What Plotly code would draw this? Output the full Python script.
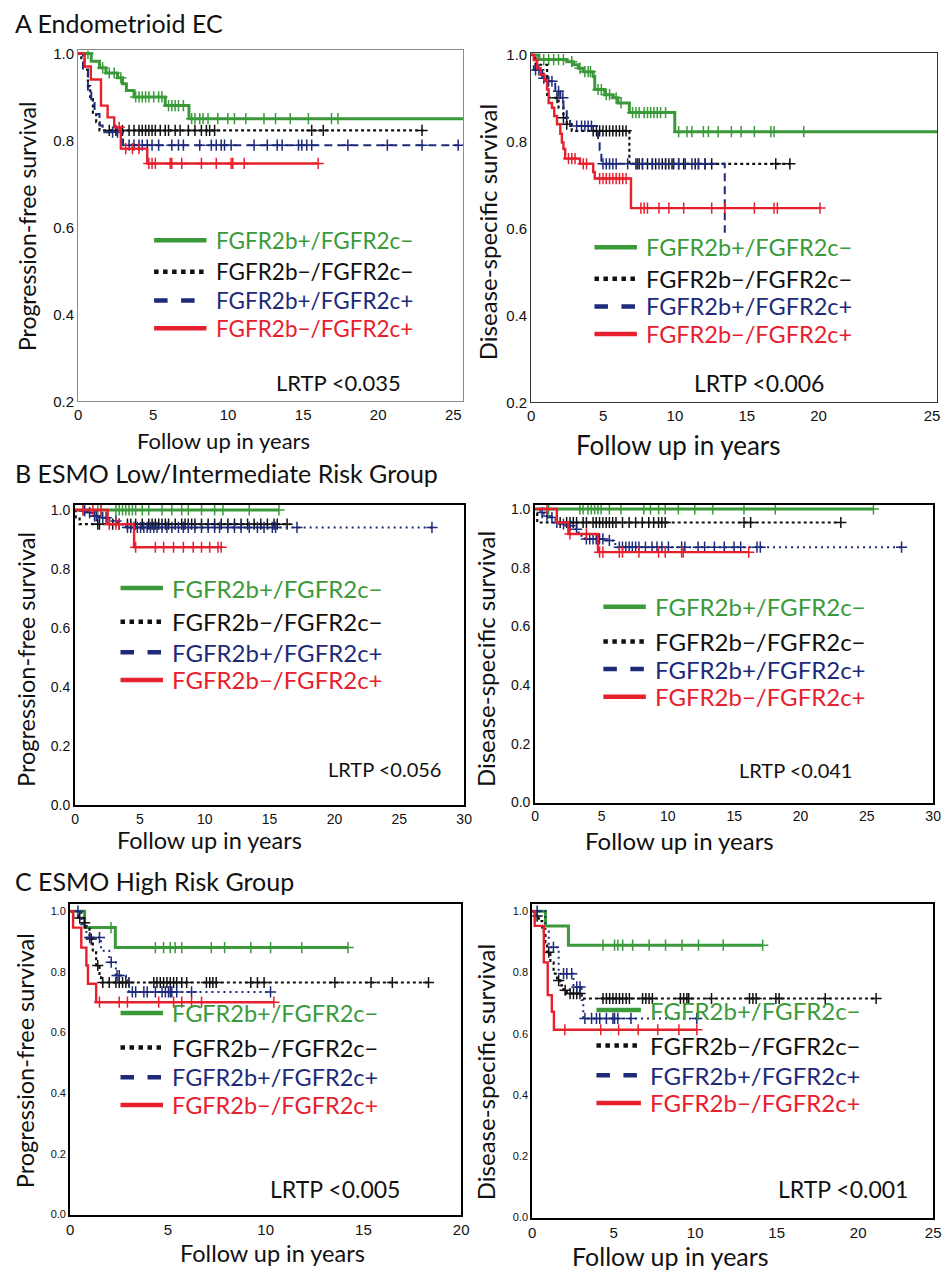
import plotly.graph_objects as go

W, H = 952, 1272
GREEN = "#3a9a3a"
BLACK = "#111111"
NAVY = "#1d2a7a"
RED = "#e8202e"

# ---------------- Panel A: Endometrioid EC, progression-free ----------------
apfs_g_t = [0.88, 1.43, 1.86, 2.63, 2.96, 3.22, 3.73, 5.81, 7.39]
apfs_g_s = [0.982, 0.967, 0.955, 0.944, 0.93, 0.915, 0.90, 0.88, 0.85]
apfs_g_end = 25.7
apfs_g_c = [0.66, 1.64, 2.08, 2.41, 2.85, 3.84, 4.06, 4.28, 4.50, 4.72, 5.04, 5.37, 5.59, 6.03, 6.25, 6.47,
            6.69, 7.02, 7.57, 7.79, 8.11, 8.33, 8.66, 9.31, 9.98, 10.42, 11.18, 12.39, 13.16, 14.14, 15.35,
            16.89, 17.32]
apfs_k_t = [0.22, 0.44, 0.66, 0.81, 0.99, 1.21, 1.43]
apfs_k_s = [0.986, 0.963, 0.925, 0.895, 0.864, 0.842, 0.823]
apfs_k_end = 23.0
apfs_k_c = [2.08, 2.52, 2.96, 3.40, 3.73, 4.06, 4.28, 4.50, 4.72, 4.93, 5.15, 5.48, 5.81, 6.03, 6.47, 6.80,
            7.35, 7.79, 8.22, 8.55, 8.77, 9.10, 15.57, 16.34, 22.92]
apfs_b_t = [0.33, 0.66, 0.88, 1.10, 1.43, 1.64, 3.0]
apfs_b_s = [0.963, 0.91, 0.891, 0.861, 0.834, 0.819, 0.789]
apfs_b_end = 25.33
apfs_b_c = [2.30, 2.63, 3.40, 3.73, 4.06, 4.28, 4.61, 4.93, 5.37, 6.25, 6.69, 7.02, 8.11, 8.88, 9.21, 9.54,
            9.76, 10.2, 11.73, 12.61, 13.27, 13.6, 14.69, 14.91, 15.24, 15.57, 17.98, 20.61, 22.92, 25.33]
apfs_r_t = [0.44, 0.85, 1.53, 1.97, 2.41, 2.85, 4.61]
apfs_r_s = [0.97, 0.94, 0.88, 0.853, 0.83, 0.781, 0.747]
apfs_r_end = 16.0
apfs_r_c = [2.74, 3.18, 3.62, 4.06, 4.72, 4.93, 5.15, 6.14, 6.25, 6.91, 8.22, 9.21, 10.2, 10.31, 11.07, 16.0]

# ---------------- Panel A: Endometrioid EC, disease-specific ----------------
adss_g_t = [0.53, 2.47, 2.93, 3.28, 3.62, 4.31, 4.42, 5.11, 5.68, 6.03, 6.83, 9.99]
adss_g_s = [0.989, 0.984, 0.977, 0.969, 0.961, 0.95, 0.92, 0.908, 0.901, 0.889, 0.867, 0.823]
adss_g_end = 28.3
adss_g_c = [0.87, 1.21, 1.56, 1.90, 2.24, 2.82, 3.39, 3.73, 3.96, 4.12, 4.65, 4.88, 5.22, 5.45, 5.91, 6.25,
            7.05, 7.29, 7.51, 7.86, 8.09, 8.31, 8.54, 8.77, 9.0, 9.35, 10.26, 10.84, 11.18, 11.98, 12.33,
            13.01, 13.93, 14.61, 15.53, 16.68, 16.9, 18.97]
adss_k_t = [0.30, 1.10, 1.90, 2.24, 2.47, 2.82, 6.83]
adss_k_s = [0.977, 0.901, 0.878, 0.855, 0.84, 0.825, 0.749]
adss_k_end = 18.05
adss_k_c = [1.79, 2.24, 2.47, 4.31, 4.54, 4.76, 4.99, 5.22, 5.45, 5.68, 5.91, 6.14, 6.37, 6.6, 7.29, 7.51,
            7.74, 8.09, 8.43, 8.66, 9.12, 9.35, 9.58, 9.8, 10.26, 10.61, 11.41, 11.64, 12.1, 12.56, 17.02, 18.0]
adss_b_t = [0.18, 0.76, 1.10, 1.67, 2.02, 2.24, 2.47, 2.70, 4.65, 4.76, 4.88, 13.47]
adss_b_s = [0.965, 0.946, 0.939, 0.916, 0.901, 0.878, 0.855, 0.836, 0.806, 0.78, 0.749, 0.59]
adss_b_end = 13.47
adss_b_c = [0.3, 0.53, 0.87, 1.21, 1.44, 1.9, 2.2, 3.16, 3.5, 3.73, 3.96, 4.19, 4.99, 5.22, 5.45, 5.68, 5.91,
            6.71, 7.4, 7.74, 8.43, 8.89, 9.35, 9.92, 10.26, 10.72, 11.18, 11.64, 12.1]
adss_r_t = [0.18, 0.41, 0.64, 0.92, 1.10, 1.21, 1.44, 1.60, 1.79, 2.02, 2.13, 2.24, 2.36, 3.39, 4.31, 4.42, 6.94]
adss_r_s = [0.988, 0.969, 0.954, 0.942, 0.92, 0.889, 0.878, 0.859, 0.84, 0.818, 0.798, 0.783, 0.761, 0.749,
            0.73, 0.715, 0.647]
adss_r_end = 20.1
adss_r_c = [2.59, 2.82, 3.05, 3.62, 3.85, 4.76, 4.99, 5.22, 5.45, 5.68, 5.91, 6.14, 6.37, 6.6, 7.63, 7.86,
            8.09, 8.89, 9.58, 10.61, 12.56, 13.47, 15.53, 16.9, 17.13, 20.1]

# ---------------- Panel B: ESMO low/intermediate, progression-free ----------------
bpfs_g_t = [0.0]
bpfs_g_s = [1.0]
bpfs_g_end = 15.72
bpfs_g_c = [0.61, 1.75, 2.0, 3.15, 3.4, 3.66, 3.91, 4.16, 4.42, 4.67, 5.18, 5.68, 6.7, 7.46, 8.22, 8.73,
            9.75, 10.76, 11.4, 13.43, 15.72]
bpfs_k_t = [0.05, 0.35]
bpfs_k_s = [0.975, 0.952]
bpfs_k_end = 16.6
bpfs_k_c = [1.75, 1.88, 2.9, 3.4, 4.04, 4.29, 4.67, 5.18, 5.68, 5.94, 6.19, 6.45, 6.7, 6.96, 7.21, 7.72, 8.22,
            8.48, 8.73, 8.99, 9.24, 9.75, 10.26, 10.76, 11.27, 11.78, 12.29, 12.8, 13.3, 13.81, 14.32, 14.83,
            15.34, 15.59, 16.35]
bpfs_b_t = [0.61, 0.99, 1.37, 1.88, 2.64, 3.28, 3.66, 3.91]
bpfs_b_s = [0.997, 0.991, 0.98, 0.974, 0.963, 0.952, 0.946, 0.941]
bpfs_b_end = 27.52
bpfs_b_c = [0.74, 1.12, 1.5, 1.63, 2.13, 2.39, 3.15, 4.04, 4.29, 4.54, 4.8, 5.05, 5.3, 5.56, 5.81, 6.07, 6.32,
            6.7, 7.08, 7.46, 7.97, 8.35, 8.73, 9.24, 9.75, 10.26, 10.76, 11.14, 11.78, 12.29, 12.8, 13.43,
            14.06, 14.57, 15.21, 15.46, 17.11, 27.52]
bpfs_r_t = [2.51, 4.55]
bpfs_r_s = [0.952, 0.874]
bpfs_r_end = 11.27
bpfs_r_c = [0.61, 1.37, 2.0, 2.64, 3.15, 3.4, 4.67, 6.19, 6.83, 7.59, 8.35, 9.11, 9.75, 10.38, 11.02, 11.27]

# ---------------- Panel B: ESMO low/intermediate, disease-specific ----------------
bdss_g_t = [0.0]
bdss_g_s = [1.0]
bdss_g_end = 25.5
bdss_g_c = [1.01, 3.37, 3.61, 3.98, 4.23, 4.48, 4.73, 4.97, 5.59, 6.46, 8.19, 8.69, 9.3, 9.8, 10.79, 12.03,
            13.39, 15.74, 18.1, 25.5]
bdss_k_t = [0.15]
bdss_k_s = [0.954]
bdss_k_end = 23.04
bdss_k_c = [1.88, 2.37, 2.62, 2.87, 3.12, 3.61, 3.86, 4.36, 4.6, 4.85, 5.1, 5.35, 5.59, 5.84, 6.09, 6.58,
            7.08, 7.57, 8.07, 8.56, 8.93, 9.3, 9.55, 9.8, 15.74, 16.24, 23.04]
bdss_b_t = [0.39, 0.64, 1.14, 1.53, 1.88, 2.37, 2.87, 3.24, 3.49, 3.74, 5.35, 5.84, 6.21]
bdss_b_s = [0.988, 0.976, 0.971, 0.954, 0.949, 0.943, 0.931, 0.92, 0.904, 0.898, 0.893, 0.881, 0.87]
bdss_b_end = 27.62
bdss_b_c = [0.52, 0.89, 1.26, 1.63, 2.13, 2.62, 3.12, 3.86, 4.11, 4.36, 4.6, 4.85, 5.1, 5.59, 6.34, 6.58,
            6.83, 7.08, 7.32, 7.57, 7.82, 8.31, 8.81, 9.18, 9.55, 10.04, 11.04, 11.28, 12.28, 12.77, 13.51,
            14.25, 14.99, 15.49, 16.72, 16.97, 27.62]
bdss_r_t = [1.63, 2.50, 4.73]
bdss_r_s = [0.954, 0.915, 0.853]
bdss_r_end = 16.1
bdss_r_c = [0.89, 2.62, 3.86, 4.85, 5.1, 6.34, 6.58, 7.82, 9.3, 9.8, 11.04, 11.16, 16.1]

# ---------------- Panel C: ESMO high risk, progression-free ----------------
cpfs_g_t = [0.74, 2.31]
cpfs_g_s = [0.946, 0.88]
cpfs_g_end = 14.21
cpfs_g_c = [2.09, 4.36, 4.78, 5.12, 5.37, 5.71, 7.22, 7.9, 9.24, 10.25, 11.85, 14.21]
cpfs_k_t = [0.15, 0.4, 0.66, 0.83, 0.99, 1.16, 1.33, 1.5, 1.58]
cpfs_k_s = [0.984, 0.978, 0.962, 0.946, 0.908, 0.864, 0.821, 0.788, 0.765]
cpfs_k_end = 18.33
cpfs_k_c = [0.49, 0.74, 1.08, 1.41, 1.67, 2.0, 2.34, 2.51, 2.68, 2.85, 3.01, 4.28, 4.44, 4.61, 4.78, 4.95,
            5.12, 5.29, 5.45, 5.71, 5.96, 6.97, 7.14, 7.3, 7.47, 9.24, 9.58, 9.92, 13.54, 15.39, 16.48, 18.33]
cpfs_b_t = [0.57, 0.83, 1.58, 2.0, 2.34, 2.85, 3.01]
cpfs_b_s = [0.957, 0.913, 0.87, 0.832, 0.788, 0.772, 0.734]
cpfs_b_end = 10.25
cpfs_b_c = [0.4, 1.0, 1.5, 2.1, 2.4, 2.51, 3.18, 3.35, 3.77, 3.94, 4.36, 4.7, 4.87, 5.03, 5.12, 5.2, 5.45,
            6.21, 10.25]
cpfs_r_t = [0.15, 0.57, 0.83, 0.91, 1.33]
cpfs_r_s = [0.946, 0.88, 0.821, 0.761, 0.70]
cpfs_r_end = 10.42
cpfs_r_c = [1.5, 2.51, 2.93, 4.53, 5.29, 5.71, 6.21, 6.72, 10.42]

# ---------------- Panel C: ESMO high risk, disease-specific ----------------
cdss_g_t = [0.81, 2.22]
cdss_g_s = [0.952, 0.889]
cdss_g_end = 14.14
cdss_g_c = [4.34, 5.05, 5.25, 5.55, 6.16, 7.17, 8.18, 9.19, 10.2, 11.72, 14.14]
cdss_k_t = [0.2, 0.4, 0.61, 0.71, 0.81, 0.91, 1.11, 1.31, 1.52, 1.72, 1.92, 2.12, 3.03]
cdss_k_s = [0.984, 0.968, 0.946, 0.93, 0.898, 0.866, 0.833, 0.796, 0.774, 0.758, 0.742, 0.731, 0.715]
cdss_k_end = 21.1
cdss_k_c = [0.3, 1.01, 1.62, 2.02, 2.32, 2.53, 2.73, 2.93, 4.34, 4.55, 4.75, 4.95, 5.15, 5.35, 5.55, 5.76,
            5.96, 6.77, 6.97, 7.17, 7.37, 9.09, 9.29, 9.49, 9.6, 11.0, 13.33, 13.54, 13.74, 14.95, 15.15,
            17.98, 21.1]
cdss_b_t = [0.81, 1.01, 1.62, 2.53, 3.03, 3.13]
cdss_b_s = [0.935, 0.882, 0.796, 0.753, 0.71, 0.65]
cdss_b_end = 10.1
cdss_b_c = [0.3, 1.3, 1.92, 2.12, 2.42, 2.73, 2.93, 3.23, 3.64, 3.94, 4.14, 4.55, 4.95, 5.05, 5.25, 6.06,
            10.1]
cdss_r_t = [0.15, 0.71, 0.95, 1.2, 1.33]
cdss_r_s = [0.952, 0.833, 0.726, 0.672, 0.613]
cdss_r_end = 10.1
cdss_r_c = [2.0, 4.2, 5.3, 6.5, 7.7, 9.0, 10.1]

group_labels = ["FGFR2b+/FGFR2c\u2212", "FGFR2b\u2212/FGFR2c\u2212", "FGFR2b+/FGFR2c+", "FGFR2b\u2212/FGFR2c+"]
pvalues = ["LRTP <0.035", "LRTP <0.006", "LRTP <0.056", "LRTP <0.041", "LRTP <0.005", "LRTP <0.001"]
panel_titles = ["A Endometrioid EC", "B ESMO Low/Intermediate Risk Group", "C ESMO High Risk Group"]
y_titles = ["Progression-free survival", "Disease-specific survival"]
x_title = "Follow up in years"

panel_data = {
    "apfs": [(apfs_g_t, apfs_g_s, apfs_g_end, apfs_g_c), (apfs_k_t, apfs_k_s, apfs_k_end, apfs_k_c),
             (apfs_b_t, apfs_b_s, apfs_b_end, apfs_b_c), (apfs_r_t, apfs_r_s, apfs_r_end, apfs_r_c)],
    "adss": [(adss_g_t, adss_g_s, adss_g_end, adss_g_c), (adss_k_t, adss_k_s, adss_k_end, adss_k_c),
             (adss_b_t, adss_b_s, adss_b_end, adss_b_c), (adss_r_t, adss_r_s, adss_r_end, adss_r_c)],
    "bpfs": [(bpfs_g_t, bpfs_g_s, bpfs_g_end, bpfs_g_c), (bpfs_k_t, bpfs_k_s, bpfs_k_end, bpfs_k_c),
             (bpfs_b_t, bpfs_b_s, bpfs_b_end, bpfs_b_c), (bpfs_r_t, bpfs_r_s, bpfs_r_end, bpfs_r_c)],
    "bdss": [(bdss_g_t, bdss_g_s, bdss_g_end, bdss_g_c), (bdss_k_t, bdss_k_s, bdss_k_end, bdss_k_c),
             (bdss_b_t, bdss_b_s, bdss_b_end, bdss_b_c), (bdss_r_t, bdss_r_s, bdss_r_end, bdss_r_c)],
    "cpfs": [(cpfs_g_t, cpfs_g_s, cpfs_g_end, cpfs_g_c), (cpfs_k_t, cpfs_k_s, cpfs_k_end, cpfs_k_c),
             (cpfs_b_t, cpfs_b_s, cpfs_b_end, cpfs_b_c), (cpfs_r_t, cpfs_r_s, cpfs_r_end, cpfs_r_c)],
    "cdss": [(cdss_g_t, cdss_g_s, cdss_g_end, cdss_g_c), (cdss_k_t, cdss_k_s, cdss_k_end, cdss_k_c),
             (cdss_b_t, cdss_b_s, cdss_b_end, cdss_b_c), (cdss_r_t, cdss_r_s, cdss_r_end, cdss_r_c)],
}


def px(x):
    return x / W


def py(y):
    return 1 - y / H


panels = [
    dict(key="apfs", x0=75, x1=465, xr=[0, 25.66], yt=44, yb=399, yr=[0.2, 1.0068],
         xtv=[0, 5, 10, 15, 20, 25], xtt=["0", "5", "10", "15", "20", "25"], ytv=[0.2, 0.4, 0.6, 0.8, 1.0],
         frame="#8a8a8a", fw=1, navy_dash="8px,5px", xfs=15, yfs=15),
    dict(key="adss", x0=534, x1=945, xr=[0, 28.25], yt=47, yb=400, yr=[0.2, 1.003],
         xtv=[0, 5, 10, 15, 20, 27.9], xtt=["0", "5", "10", "15", "20", "25"], ytv=[0.2, 0.4, 0.6, 0.8, 1.0],
         frame="#333333", fw=1.2, navy_dash="8px,5px", xfs=15, yfs=15),
    dict(key="bpfs", x0=72, x1=466, xr=[0, 30], yt=504, yb=808, yr=[0, 1.0167],
         xtv=[0, 5, 10, 15, 20, 25, 30], xtt=None, ytv=[0, 0.2, 0.4, 0.6, 0.8, 1.0],
         frame="#000000", fw=2, navy_dash="2px,4px", xfs=14, yfs=14),
    dict(key="bdss", x0=538, x1=941, xr=[0, 30], yt=504, yb=805, yr=[0, 1.0135],
         xtv=[0, 5, 10, 15, 20, 25, 30], xtt=None, ytv=[0, 0.2, 0.4, 0.6, 0.8, 1.0],
         frame="#000000", fw=2, navy_dash="2px,4px", xfs=14, yfs=14),
    dict(key="cpfs", x0=67, x1=463, xr=[0, 20], yt=908, yb=1222, yr=[0, 1.0228],
         xtv=[0, 5, 10, 15, 20], xtt=None, ytv=[0, 0.2, 0.4, 0.6, 0.8, 1.0],
         frame="#000000", fw=2, navy_dash="2px,4px", xfs=15, yfs=11),
    dict(key="cdss", x0=535, x1=941, xr=[0, 24.6], yt=908, yb=1225, yr=[0, 1.0226],
         xtv=[0, 5, 10, 15, 20, 24.6], xtt=["0", "5", "10", "15", "20", "25"], ytv=[0, 0.2, 0.4, 0.6, 0.8, 1.0],
         frame="#000000", fw=2, navy_dash="2px,4px", xfs=15, yfs=11),
]

colors = [GREEN, BLACK, NAVY, RED]


def surv_at(times, survs, c):
    s = 1.0
    for t, v in zip(times, survs):
        if t <= c:
            s = v
    return s


fig = go.Figure()
layout_axes = {}
for i, p in enumerate(panels):
    n = "" if i == 0 else str(i + 1)
    xa, ya = "x" + n, "y" + n
    for j, (times, survs, end, cens) in enumerate(panel_data[p["key"]]):
        xs = [0] + list(times) + [end]
        ys = [1.0] + list(survs) + [survs[-1]]
        if j == 0:
            dash, width = "solid", 3.0
        elif j == 1:
            dash, width = "dot", 2.2
        elif j == 2:
            dash, width = p["navy_dash"], 2.0
        else:
            dash, width = "solid", 2.4
        fig.add_trace(go.Scatter(x=xs, y=ys, mode="lines", line=dict(color=colors[j], width=width, dash=dash,
                                                                        shape="hv"),
                                 xaxis=xa, yaxis=ya, showlegend=False, hoverinfo="skip"))
        cy = [surv_at(times, survs, c) for c in cens]
        fig.add_trace(go.Scatter(x=cens, y=cy, mode="markers",
                                 marker=dict(symbol="cross-thin", size=8, color=colors[j],
                                             line=dict(color=colors[j], width=1.5)),
                                 xaxis=xa, yaxis=ya, showlegend=False, hoverinfo="skip"))
    xkey = "xaxis" + n
    ykey = "yaxis" + n
    layout_axes[xkey] = dict(domain=[px(p["x0"]), px(p["x1"])], range=p["xr"], anchor=ya,
                             showgrid=False, zeroline=False, showline=True, mirror=True,
                             linecolor=p["frame"], linewidth=p["fw"], ticks="",
                             tickvals=p["xtv"], ticktext=p["xtt"] if p["xtt"] else [str(v) for v in p["xtv"]],
                             tickfont=dict(family="Liberation Sans, Arial", size=p["xfs"], color="#111"))
    layout_axes[ykey] = dict(domain=[py(p["yb"]), py(p["yt"])], range=p["yr"], anchor=xa,
                             showgrid=False, zeroline=False, showline=True, mirror=True,
                             linecolor=p["frame"], linewidth=p["fw"], ticks="",
                             tickvals=p["ytv"], ticktext=["%.1f" % v for v in p["ytv"]],
                             tickfont=dict(family="Liberation Sans, Arial", size=p["yfs"], color="#111"))

TF = "Lato, Open Sans, sans-serif"
ann = []
shapes = []

for txt, yy in zip(panel_titles, [16, 472, 884]):
    ann.append(dict(text=txt, x=px(9), y=py(yy), xref="paper", yref="paper", xanchor="left", yanchor="middle",
                    showarrow=False, font=dict(family=TF, size=25, color="#111")))

ytitle_pos = [(24, 222), (489, 228), (22, 660), (487, 660), (22, 1066), (487, 1078)]
ytitle_fs = [23, 24, 23.5, 24, 23.5, 24]
xtitle_pos = [(222, 439), (683, 443), (208, 843), (684, 843), (272, 1261), (675, 1264)]
xtitle_fs = [22, 26, 23.5, 24, 23.5, 25]
for i in range(6):
    yx, yy = ytitle_pos[i]
    ann.append(dict(text=y_titles[i % 2], x=px(yx), y=py(yy), xref="paper", yref="paper", textangle=-90,
                    xanchor="center", yanchor="middle", showarrow=False,
                    font=dict(family=TF, size=ytitle_fs[i], color="#111")))
    xx, xy = xtitle_pos[i]
    ann.append(dict(text=x_title, x=px(xx), y=py(xy), xref="paper", yref="paper", xanchor="center",
                    yanchor="middle", showarrow=False, font=dict(family=TF, size=xtitle_fs[i], color="#111")))

pv_pos = [(339, 380), (765, 380), (385, 771), (802, 772), (335, 1196), (850, 1196)]
pv_fs = [22, 23, 20, 20, 23, 23]
for txt, (xx, yy), fs in zip(pvalues, pv_pos, pv_fs):
    ann.append(dict(text=txt, x=px(xx), y=py(yy), xref="paper", yref="paper", xanchor="center",
                    yanchor="middle", showarrow=False, font=dict(family=TF, size=fs, color="#111")))

leg_pos = [
    (152, 205, 213, [236, 268, 297, 325], 22.5),
    (598, 641, 648, [243, 275, 303, 331], 23.5),
    (118, 161, 168, [588, 622, 653, 681], 24),
    (607, 650, 657, [607, 642, 670, 698], 24),
    (118, 161, 168, [1018, 1053, 1083, 1111], 23.5),
    (600, 645, 652, [1015, 1051, 1081, 1109], 24),
]
leg_dash = ["solid", "dot", "dash", "solid"]
leg_text_col = [GREEN, BLACK, NAVY, RED]
for (lx0, lx1, tx, rows, fs) in leg_pos:
    for j in range(4):
        shapes.append(dict(type="line", xref="paper", yref="paper", x0=px(lx0), x1=px(lx1),
                           y0=py(rows[j]), y1=py(rows[j]),
                           line=dict(color=colors[j], width=4.5, dash=leg_dash[j])))
        ann.append(dict(text=group_labels[j], x=px(tx), y=py(rows[j]), xref="paper", yref="paper",
                        xanchor="left", yanchor="middle", showarrow=False,
                        font=dict(family=TF, size=fs, color=leg_text_col[j])))

fig.update_layout(width=W, height=H, margin=dict(l=0, r=0, t=0, b=0), autosize=False,
                  paper_bgcolor="white", plot_bgcolor="white",
                  annotations=ann, shapes=shapes, showlegend=False, **layout_axes)

fig.write_html("out.html", config={"responsive": False, "displayModeBar": False},
               post_script="document.body.style.margin='0px';document.body.style.padding='0px';"
                           "document.documentElement.style.margin='0px';"
                           "document.documentElement.style.overflow='hidden';")
